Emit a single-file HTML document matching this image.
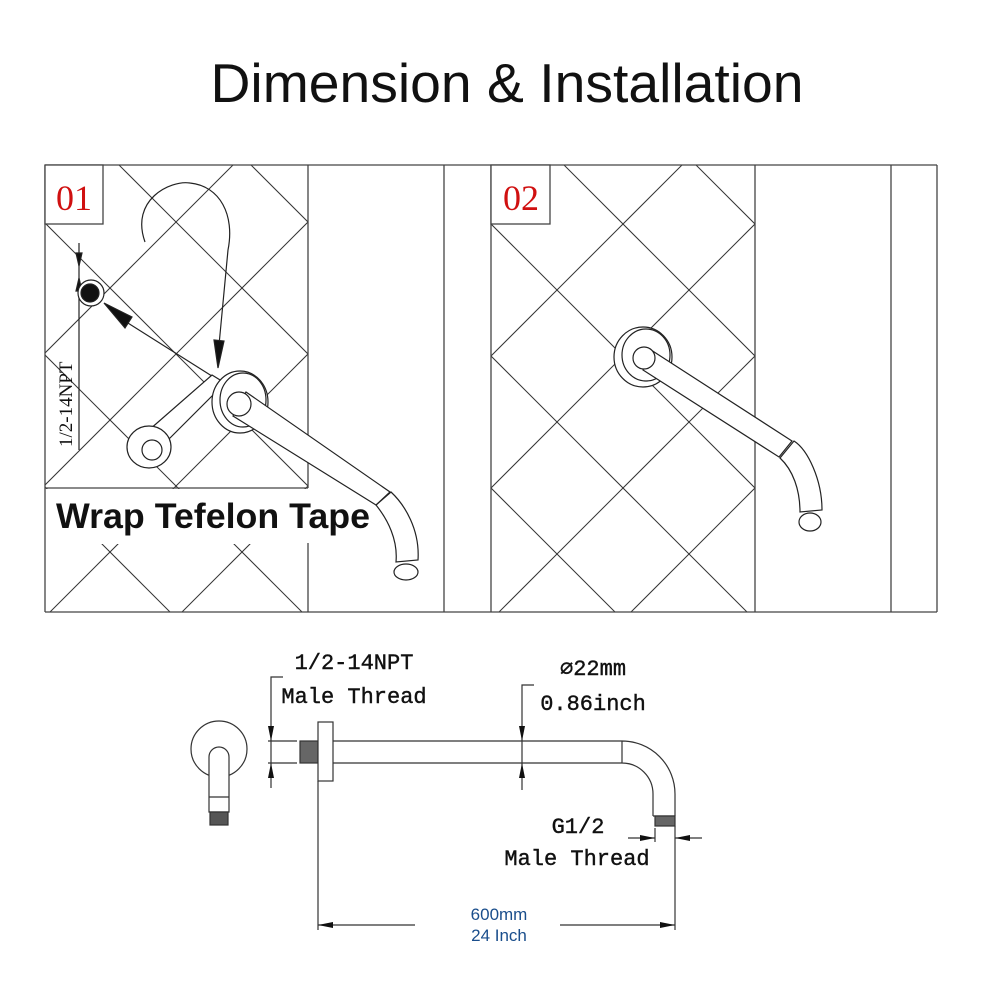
<!DOCTYPE html>
<html><head><style>
html,body{margin:0;padding:0;background:#fff;overflow:hidden;width:1000px;height:1000px;}
svg{display:block;}
</style></head><body>
<svg width="1000" height="1000" viewBox="0 0 1000 1000" xmlns="http://www.w3.org/2000/svg">
<defs>
<clipPath id="c1"><rect x="45" y="165" width="263" height="447"/></clipPath>
<clipPath id="c2"><rect x="491" y="165" width="264" height="447"/></clipPath>
</defs>
<rect width="1000" height="1000" fill="#fff"/>
<text x="507" y="102" font-family="Liberation Sans, sans-serif" font-size="55" text-anchor="middle" fill="#111" textLength="593" lengthAdjust="spacingAndGlyphs">Dimension &amp; Installation</text>

<g stroke="#333" stroke-width="1" fill="none">
<g clip-path="url(#c1)">
<line x1="-300" y1="-254" x2="700" y2="746"/>
<line x1="-300" y1="-122" x2="700" y2="878"/>
<line x1="-300" y1="10" x2="700" y2="1010"/>
<line x1="-300" y1="142" x2="700" y2="1142"/>
<line x1="-300" y1="274" x2="700" y2="1274"/>
<line x1="-300" y1="-386" x2="700" y2="614"/>
<line x1="-300" y1="-518" x2="700" y2="482"/>
<line x1="-300" y1="698" x2="700" y2="-302"/>
<line x1="-300" y1="830" x2="700" y2="-170"/>
<line x1="-300" y1="962" x2="700" y2="-38"/>
<line x1="-300" y1="1094" x2="700" y2="94"/>
<line x1="-300" y1="1226" x2="700" y2="226"/>
<line x1="-300" y1="1358" x2="700" y2="358"/>
</g>
<g clip-path="url(#c2)">
<line x1="0" y1="-399" x2="1000" y2="601"/>
<line x1="0" y1="-267" x2="1000" y2="733"/>
<line x1="0" y1="-135" x2="1000" y2="865"/>
<line x1="0" y1="-3" x2="1000" y2="997"/>
<line x1="0" y1="129" x2="1000" y2="1129"/>
<line x1="0" y1="-531" x2="1000" y2="469"/>
<line x1="0" y1="-663" x2="1000" y2="337"/>
<line x1="0" y1="715" x2="1000" y2="-285"/>
<line x1="0" y1="847" x2="1000" y2="-153"/>
<line x1="0" y1="979" x2="1000" y2="-21"/>
<line x1="0" y1="1111" x2="1000" y2="111"/>
<line x1="0" y1="1243" x2="1000" y2="243"/>
<line x1="0" y1="1375" x2="1000" y2="375"/>
</g>
</g>
<rect x="46" y="489" width="400" height="55" fill="#fff"/>

<g stroke="#444" stroke-width="1.3" fill="none">
<line x1="45" y1="165" x2="937" y2="165"/>
<line x1="45" y1="612" x2="937" y2="612"/>
<line x1="45" y1="165" x2="45" y2="612"/>
<line x1="45" y1="488" x2="308" y2="488"/>
<line x1="308" y1="165" x2="308" y2="488"/>
<line x1="308" y1="543" x2="308" y2="612"/>
<line x1="444" y1="165" x2="444" y2="612"/>
<line x1="491" y1="165" x2="491" y2="612"/>
<line x1="755" y1="165" x2="755" y2="612"/>
<line x1="891" y1="165" x2="891" y2="612"/>
<line x1="937" y1="165" x2="937" y2="612"/>
</g>
<rect x="45" y="165" width="58" height="59" fill="#fff" stroke="#444" stroke-width="1.3"/>
<rect x="491" y="165" width="59" height="59" fill="#fff" stroke="#444" stroke-width="1.3"/>
<text x="74" y="210" font-family="Liberation Serif, serif" font-size="36" text-anchor="middle" fill="#d01010">01</text>
<text x="521" y="210" font-family="Liberation Serif, serif" font-size="36" text-anchor="middle" fill="#d01010">02</text>

<g stroke="#222" stroke-width="1.2" fill="#fff">
<path d="M145,242 C130,200 170,180 190,183 C220,186 235,215 228,250 L219,345" fill="none"/>
<polygon points="214,340 224,341 218,368" fill="#111"/>
<line x1="79" y1="243" x2="79" y2="450"/>
<polygon points="76,253 82,253 79,266" fill="#111"/>
<polygon points="76,291 82,291 79,278" fill="#111"/>
<circle cx="91" cy="293" r="13"/>
<circle cx="90" cy="293" r="9" fill="#111"/>
<line x1="120" y1="318" x2="215" y2="378"/>
<polygon points="104,303 132,317 125,328" fill="#111"/>
<polygon points="141,437 212,375 225,383 158,450"/>
<ellipse cx="149" cy="447" rx="22" ry="21"/>
<circle cx="152" cy="450" r="10"/>
<path d="M391,492 C405,505 420,530 418,560 L396,562 C398,540 388,520 376,505 Z"/>
<ellipse cx="406" cy="572" rx="12" ry="8"/>
<ellipse cx="240" cy="402" rx="28" ry="31"/>
<ellipse cx="243" cy="400" rx="23" ry="27"/>
<polygon points="246,392 390,492 376,505 233,416"/>
<circle cx="239" cy="404" r="12"/>
</g>
<text x="56" y="528" font-family="Liberation Sans, sans-serif" font-size="35" font-weight="bold" fill="#111" textLength="314" lengthAdjust="spacingAndGlyphs">Wrap Tefelon Tape</text>
<text transform="translate(72,447) rotate(-90)" font-family="Liberation Serif, serif" font-size="19" fill="#111">1/2-14NPT</text>

<g stroke="#222" stroke-width="1.2" fill="#fff">
<path d="M794,441 C808,450 822,480 822,510 L800,512 C800,490 793,470 780,458 Z"/>
<ellipse cx="810" cy="522" rx="11" ry="9"/>
<ellipse cx="643" cy="357" rx="29" ry="30"/>
<ellipse cx="646" cy="355" rx="24" ry="26"/>
<polygon points="648,348 792,441 779,457 643,370"/>
<circle cx="644" cy="358" r="11"/>
</g>

<g stroke="#333" stroke-width="1.2" fill="none">
<circle cx="219" cy="749" r="28" fill="#fff"/>
<path d="M209,812 L209,757 A10,10 0 0 1 229,757 L229,812 Z" fill="#fff"/>
<line x1="209" y1="797" x2="229" y2="797"/>
<rect x="210" y="812" width="18" height="13" fill="#555"/>
<rect x="300" y="741" width="18" height="22" fill="#666"/>
<rect x="318" y="722" width="15" height="59" fill="#fff"/>
<path d="M333,741 L622,741 A53,53 0 0 1 675,794 L675,816 M333,763 L622,763 A31,31 0 0 1 653,794 L653,816 M622,741 L622,763"/>
<line x1="653" y1="816" x2="675" y2="816"/>
<rect x="655" y="816" width="20" height="10" fill="#666"/>
<polyline points="283,677 271,677 271,788"/>
<line x1="268" y1="741" x2="297" y2="741"/>
<line x1="268" y1="763" x2="297" y2="763"/>
<polyline points="534,685 522,685 522,790"/>
<line x1="655" y1="828" x2="655" y2="842"/>
<line x1="675" y1="826" x2="675" y2="930"/>
<line x1="628" y1="838" x2="655" y2="838"/>
<line x1="675" y1="838" x2="702" y2="838"/>
<line x1="318" y1="781" x2="318" y2="930"/>
<line x1="318" y1="925" x2="415" y2="925"/>
<line x1="560" y1="925" x2="675" y2="925"/>
</g>
<g fill="#111">
<polygon points="268,726 274,726 271,741"/>
<polygon points="268,778 274,778 271,763"/>
<polygon points="519,726 525,726 522,741"/>
<polygon points="519,778 525,778 522,763"/>
<polygon points="640,835 640,841 655,838"/>
<polygon points="690,835 690,841 675,838"/>
<polygon points="333,922 333,928 318,925"/>
<polygon points="660,922 660,928 675,925"/>
</g>
<g font-family="Liberation Mono, monospace" font-size="22" fill="#111" stroke="#111" stroke-width="0.4" text-anchor="middle">
<text x="354" y="669">1/2-14NPT</text>
<text x="354" y="703">Male Thread</text>
<text x="593" y="675">⌀22mm</text>
<text x="593" y="710">0.86inch</text>
<text x="578" y="833">G1/2</text>
<text x="577" y="865">Male Thread</text>
</g>
<g font-family="Liberation Sans, sans-serif" font-size="17" fill="#1a4e8c" text-anchor="middle">
<text x="499" y="920">600mm</text>
<text x="499" y="941">24 Inch</text>
</g>
</svg>
</body></html>
